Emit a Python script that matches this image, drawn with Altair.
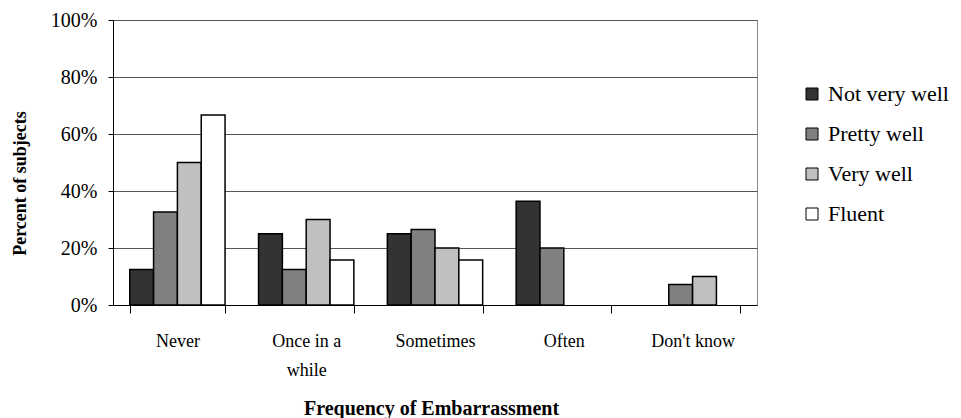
import altair as alt
import pandas as pd

# Frequency of embarrassment by self-rated language ability (percent of subjects)
categories = ["Never", "Once in a while", "Sometimes", "Often", "Don't know"]
series = ["Not very well", "Pretty well", "Very well", "Fluent"]
not_very_well = [12.5, 25.0, 25.0, 36.4, 0.0]
pretty_well = [32.6, 12.5, 26.5, 20.0, 7.2]
very_well = [50.0, 30.0, 20.0, 0.0, 10.0]
fluent = [66.7, 15.8, 15.8, 0.0, 0.0]
colors = ["#333333", "#808080", "#c0c0c0", "#ffffff"]
y_ticks = [0, 20, 40, 60, 80, 100]

rows = []
for name, vals in zip(series, [not_very_well, pretty_well, very_well, fluent]):
    for cat, v in zip(categories, vals):
        rows.append({"frequency": cat, "ability": name, "percent": v})
df = pd.DataFrame(rows)

FONT = "Liberation Serif"

chart = (
    alt.Chart(df)
    .transform_filter("datum.percent > 0")
    .mark_bar(stroke="black", strokeWidth=1.5)
    .encode(
        x=alt.X(
            "frequency:N",
            sort=categories,
            scale=alt.Scale(domain=categories, paddingInner=0.26, paddingOuter=0.13),
            axis=alt.Axis(
                title="Frequency of Embarrassment",
                titleFont=FONT,
                titleFontSize=20,
                titleFontWeight="bold",
                titleColor="black",
                titleBaseline="middle",
                titleX=318,
                titleY=103,
                labelAngle=0,
                labelFont=FONT,
                labelFontSize=18,
                labelColor="black",
                labelPadding=19,
                labelLineHeight=29,
                labelExpr="datum.value == 'Once in a while' ? ['Once in a', 'while'] : datum.value",
                tickBand="extent",
                tickSize=8,
                tickColor="black",
                domainColor="black",
                grid=False,
            ),
        ),
        xOffset=alt.XOffset(
            "ability:N",
            sort=series,
            scale=alt.Scale(domain=series, paddingInner=0, paddingOuter=0),
        ),
        y=alt.Y(
            "percent:Q",
            scale=alt.Scale(domain=[0, 100]),
            axis=alt.Axis(
                title="Percent of subjects",
                titleFont=FONT,
                titleFontSize=18,
                titleFontWeight="bold",
                titleColor="black",
                titleAngle=270,
                titleBaseline="middle",
                titleAlign="center",
                titleX=-93,
                titleY=163,
                values=y_ticks,
                labelExpr="datum.value + '%'",
                labelFont=FONT,
                labelFontSize=20,
                labelColor="black",
                labelPadding=11,
                tickSize=5,
                tickColor="black",
                domainColor="black",
                grid=True,
                gridColor="#555555",
                gridWidth=1,
            ),
        ),
        color=alt.Color(
            "ability:N",
            sort=series,
            scale=alt.Scale(domain=series, range=colors),
            legend=alt.Legend(
                title=None,
                orient="none",
                legendX=688,
                legendY=63,
                padding=0,
                symbolType="square",
                symbolSize=144,
                symbolStrokeColor="black",
                symbolStrokeWidth=1,
                symbolOpacity=1,
                labelFont=FONT,
                labelFontSize=22,
                labelColor="black",
                labelOffset=5,
                rowPadding=18,
            ),
        ),
    )
    .properties(
        width=644,
        height=285,
        autosize=alt.AutoSizeParams(type="none"),
        padding={"left": 113, "top": 20, "right": 204, "bottom": 113},
    )
    .configure(background="white", font=FONT)
    .configure_view(stroke="#888888", strokeWidth=1)
)

chart.save("out.html", embed_options={"renderer": "svg", "actions": False})
